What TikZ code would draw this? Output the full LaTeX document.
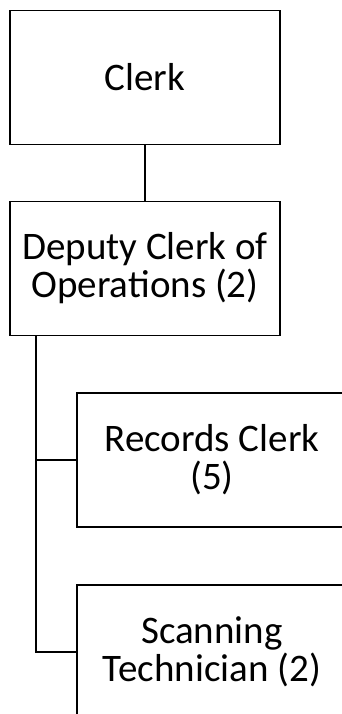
\documentclass[tikz,border=0pt]{standalone}
\usepackage{fontspec}
\setmainfont{Carlito}
\begin{document}
\begin{tikzpicture}[x=1pt,y=1pt,
  orgbox/.style={draw=black, line width=1.8pt, fill=white, rectangle,
    minimum width=270pt, minimum height=134pt, align=center, inner sep=0pt,
    font=\fontsize{39}{38}\selectfont},
  link/.style={draw=black, line width=1.8pt}]
  \useasboundingbox (0,0) rectangle (342,-714);
  \clip (0,0) rectangle (342,-714);
  % top of the hierarchy
  \node[orgbox] (clerk) at (145,-77.5) {Clerk};
  \node[orgbox] (deputy) at (145,-268.5) {Deputy Clerk of\\Operations (2)};
  % staff reporting to the deputy
  \node[orgbox] (records) at (212,-460) {Records Clerk\\(5)};
  \node[orgbox] (scan) at (212,-652) {Scanning\\Technician (2)};
  % connectors
  \draw[link] (clerk.south) -- (deputy.north);
  \coordinate (bus) at ([xshift=27pt]deputy.south west);
  \draw[link] (bus) |- (records.west);
  \draw[link] (bus) |- (scan.west);
\end{tikzpicture}
\end{document}
